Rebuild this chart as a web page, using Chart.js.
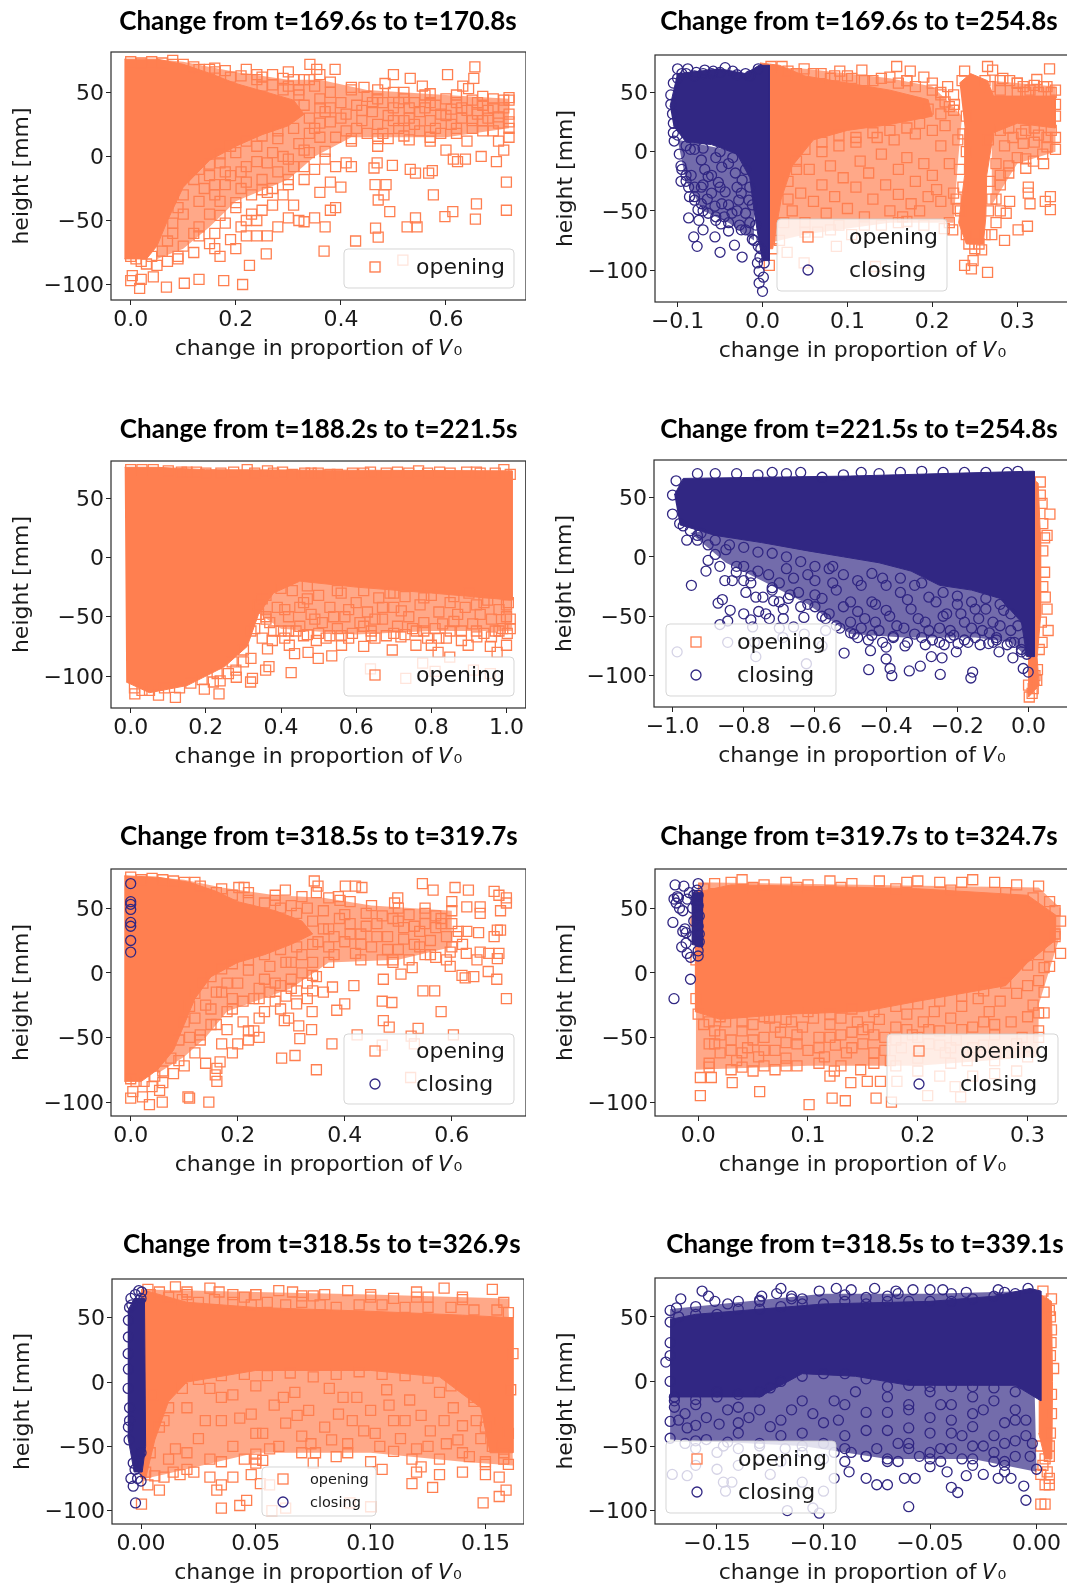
<!DOCTYPE html>
<html>
<head>
<meta charset="utf-8">
<title>Change in proportion of V0</title>
<script src="https://cdn.jsdelivr.net/npm/chart.js@4"></script>
<style>
  html, body { margin: 0; padding: 0; background: #fff; width: 1067px; height: 1585px; overflow: hidden; }
  canvas { position: absolute; }
</style>
</head>
<body>
<script>
// Tick values
const yTicks = [-100, -50, 0, 50];
const p1XTicks = [0, 0.2, 0.4, 0.6];
const p2XTicks = [-0.1, 0, 0.1, 0.2, 0.3];
const p3XTicks = [0, 0.2, 0.4, 0.6, 0.8, 1];
const p4XTicks = [-1, -0.8, -0.6, -0.4, -0.2, 0];
const p5XTicks = [0, 0.2, 0.4, 0.6];
const p6XTicks = [0, 0.1, 0.2, 0.3];
const p7XTicks = [0, 0.05, 0.1, 0.15];
const p8XTicks = [-0.15, -0.1, -0.05, 0];

const p1OpeningCore = [[-0.012,76],[0.05,76],[0.1,72],[0.15,65],[0.2,57],[0.26,50],[0.31,44],[0.33,33],[0.3,24],[0.25,17],[0.2,8],[0.15,-3],[0.1,-24],[0.07,-50],[0.05,-70],[0.03,-80],[-0.012,-80]];
const p2ClosingCore = [[-0.109,38],[-0.1,66],[-0.05,70],[-0.02,66],[-0.004,73],[0.008,73],[0.008,-92],[0,-92],[-0.005,-72],[-0.01,-50],[-0.015,-22],[-0.03,-2],[-0.06,6],[-0.09,8],[-0.105,22]];
const p2OpeningCoreA = [[-0.003,75],[0.02,73],[0.05,64],[0.1,58],[0.15,52],[0.195,44],[0.2,30],[0.15,23],[0.1,18],[0.06,10],[0.035,-12],[0.022,-40],[0.012,-82],[-0.003,-82]];
const p2OpeningCoreB = [[0.232,58],[0.245,66],[0.265,60],[0.272,47],[0.345,47],[0.345,20],[0.3,24],[0.272,16],[0.264,-20],[0.263,-55],[0.26,-78],[0.24,-78],[0.231,-60],[0.238,-20],[0.238,20]];
const p3OpeningCore = [[-0.016,76],[0.07,76],[0.2,74],[1.015,73],[1.015,-36],[0.8,-30],[0.6,-25],[0.45,-20],[0.38,-30],[0.34,-48],[0.31,-75],[0.25,-92],[0.15,-108],[0.05,-114],[-0.012,-105]];
const p4ClosingCore = [[-0.995,52],[-0.97,66],[-0.5,68],[0,72],[0.016,72],[0.016,-84],[-0.005,-84],[-0.02,-55],[-0.08,-35],[-0.16,-28],[-0.25,-24],[-0.33,-12],[-0.42,-5],[-0.52,0],[-0.62,5],[-0.75,12],[-0.88,18],[-0.98,27]];
const p4OpeningCore = [[0.01,66],[0.027,62],[0.033,20],[0.034,-50],[0.024,-85],[0.03,-108],[0.0,-118],[0.0,-85],[0.01,-80]];
const p5OpeningCore = [[-0.012,75],[0.05,74],[0.11,70],[0.16,63],[0.2,55],[0.27,48],[0.32,40],[0.34,30],[0.3,22],[0.25,14],[0.2,8],[0.15,-3],[0.12,-20],[0.1,-40],[0.08,-60],[0.05,-75],[0.02,-84],[-0.012,-84]];
const p6ClosingCore = [[-0.006,62],[0.004,62],[0.004,20],[-0.006,22]];
const p6OpeningCore = [[-0.003,62],[0.03,68],[0.1,67],[0.2,65],[0.3,60],[0.325,45],[0.325,25],[0.3,8],[0.28,-10],[0.2,-22],[0.15,-30],[0.08,-32],[0.02,-36],[-0.003,-30]];
const p7ClosingCore = [[-0.0058,55],[-0.003,65],[0.0015,65],[0.002,-50],[0.0005,-70],[-0.003,-70],[-0.0058,-42]];
const p7OpeningCore = [[0,72],[0.02,62],[0.05,58],[0.1,55],[0.14,52],[0.162,50],[0.162,-55],[0.152,-55],[0.148,-20],[0.13,4],[0.1,9],[0.05,9],[0.02,0],[0.012,-15],[0.006,-45],[0.002,-75],[0,-75]];
const p8ClosingCore = [[-0.172,48],[-0.16,52],[-0.1,60],[-0.05,62],[-0.02,66],[-0.003,72],[0.002,70],[0.002,-15],[-0.01,-3],[-0.03,-3],[-0.06,-3],[-0.085,4],[-0.11,6],[-0.13,-12],[-0.172,-12]];
const p8OpeningCore = [[0.001,68],[0.007,62],[0.0075,0],[0.0072,-60],[0.004,-60],[0.001,-40]];

// Crowded but not solid parts, drawn as a tint under the markers
const p1OpeningHaze = [[0.05,-80],[0.1,-72],[0.15,-55],[0.2,-35],[0.3,-18],[0.35,0],[0.42,15],[0.6,15],[0.72,22],[0.72,45],[0.6,48],[0.45,52],[0.36,60],[0.3,60],[0.2,66],[0.1,74],[0.05,76]];
const p2OpeningHazeA = [[0.002,-78],[0.002,72],[0.05,70],[0.1,66],[0.15,62],[0.2,55],[0.215,45],[0.235,30],[0.23,-10],[0.225,-60],[0.15,-60],[0.1,-65],[0.05,-70]];
const p2OpeningHazeB = [[0.27,60],[0.345,55],[0.345,0],[0.3,-10],[0.27,-45]];
const p2ClosingHaze = [[-0.1,10],[-0.09,-25],[-0.07,-50],[-0.04,-60],[-0.01,-75],[-0.01,-20],[-0.03,0]];
const p3OpeningHaze = [[0.33,-45],[0.4,-60],[0.6,-65],[0.8,-62],[1.015,-62],[1.015,-30],[0.6,-20],[0.4,-20]];
const p4ClosingHaze = [[-0.95,20],[-0.85,-5],[-0.75,-20],[-0.62,-40],[-0.5,-65],[-0.35,-68],[-0.15,-68],[-0.05,-72],[-0.005,-84],[-0.005,0],[-0.3,0],[-0.6,10],[-0.9,22]];
const p5OpeningHaze = [[0.05,-78],[0.1,-65],[0.14,-50],[0.18,-30],[0.3,-12],[0.37,8],[0.5,10],[0.6,20],[0.6,48],[0.45,52],[0.36,58],[0.27,60],[0.17,66],[0.1,72],[0.05,74]];
const p6OpeningHaze = [[-0.002,-75],[0.1,-72],[0.2,-72],[0.31,-65],[0.31,-25],[0.33,30],[0.33,50],[0.31,66],[0,70],[-0.002,-30]];
const p7OpeningHaze = [[0.002,72],[0.05,70],[0.1,68],[0.16,65],[0.162,-65],[0.14,-62],[0.1,-55],[0.05,-55],[0.01,-72],[0.002,-75]];
const p8ClosingHaze = [[-0.172,56],[-0.1,68],[-0.05,68],[-0.002,70],[0,-70],[-0.03,-60],[-0.07,-60],[-0.11,-50],[-0.172,-45]];

// Markers sitting on the rim of the crowded parts
const p1OpeningRim = [[0.09,-78],[0.13,-62],[0.17,-46],[0.2,-36],[0.25,-26],[0.3,-18],[0.33,-8],[0.37,4],[0.42,14],[0.47,14],[0.52,16],[0.57,15],[0.62,18],[0.67,20],[0.72,22],[0.72,46],[0.67,47],[0.62,48],[0.57,49],[0.52,50],[0.47,52],[0.42,54],[0.38,58],[0.34,60],[0.29,61],[0.24,64],[0.16,69],[0.08,75]];
const p2OpeningRim = [[0.05,-68],[0.08,-66],[0.12,-62],[0.16,-60],[0.19,-62],[0.22,-60],[0.228,-40],[0.232,-15],[0.236,15],[0.226,40],[0.21,50],[0.17,60],[0.275,-40],[0.28,-20],[0.29,-12],[0.31,-6],[0.33,-2],[0.345,2],[0.345,12],[0.3,58],[0.28,60],[0.32,56],[0.335,55]];
const p2ClosingRim = [[-0.095,-15],[-0.09,-25],[-0.08,-38],[-0.07,-50],[-0.055,-55],[-0.04,-60],[-0.025,-66],[-0.012,-74]];
const p3OpeningRim = [[0.36,-52],[0.42,-62],[0.5,-64],[0.56,-66],[0.64,-66],[0.7,-64],[0.78,-62],[0.85,-62],[0.92,-62],[0.98,-62],[1.01,-60],[0.34,-40]];
const p4ClosingRim = [[-0.93,14],[-0.88,2],[-0.82,-8],[-0.78,-16],[-0.72,-26],[-0.67,-32],[-0.62,-40],[-0.58,-50],[-0.54,-58],[-0.5,-64],[-0.44,-66],[-0.38,-67],[-0.3,-68],[-0.22,-68],[-0.15,-68],[-0.09,-70],[-0.05,-72],[-0.02,-80]];
const p5OpeningRim = [[0.09,-68],[0.13,-52],[0.16,-40],[0.19,-28],[0.24,-20],[0.3,-12],[0.34,-2],[0.37,8],[0.43,10],[0.49,10],[0.55,14],[0.6,20],[0.6,48],[0.55,50],[0.5,50],[0.45,52],[0.41,55],[0.37,58],[0.32,59],[0.27,60],[0.22,62],[0.17,65],[0.12,70]];
const p6OpeningRim = [[0.01,-73],[0.04,-73],[0.08,-72],[0.13,-72],[0.18,-72],[0.23,-70],[0.27,-68],[0.3,-65],[0.31,-45],[0.315,-15],[0.32,5],[0.33,15]];
const p7OpeningRim = [[0.02,-68],[0.035,-62],[0.05,-56],[0.07,-55],[0.09,-55],[0.11,-54],[0.13,-60],[0.15,-64],[0.16,-64],[0.02,70],[0.05,68],[0.075,67],[0.1,66],[0.12,66],[0.14,66]];
const p8ClosingRim = [[-0.172,-44],[-0.16,-46],[-0.145,-47],[-0.13,-50],[-0.11,-50],[-0.095,-55],[-0.08,-58],[-0.07,-60],[-0.05,-60],[-0.03,-60],[-0.015,-65],[-0.172,55],[-0.16,58],[-0.145,60],[-0.13,62],[-0.115,66],[-0.09,67],[-0.065,68],[-0.04,68],[-0.015,69],[-0.172,20],[-0.17,-20]];

// Individually visible markers [change, height]
const p1Opening = [[0,-97],[0.003,-93],[0.017,-103],[0.02,-96],[0.043,-94],[0.068,-102],[0.102,-99],[0.13,-96],[0.177,-97],[0.213,-100],[0.226,-85],[0.258,-76],[0.368,-74],[0.428,-66],[0.466,-86],[0.471,-63],[0.466,-56],[0.518,-81],[0.526,-55],[0.545,-55],[0.542,-48],[0.598,-47],[0.613,-43],[0.656,-49],[0.658,-37],[0.715,-42],[0.715,-20],[0.576,-30],[0.493,-43],[0.471,-34],[0.482,-30],[0.486,-22],[0.465,-22],[0.463,-9],[0.469,-5],[0.498,-7],[0.532,-10],[0.542,-13],[0.567,-13],[0.574,-11],[0.667,0],[0.696,-4],[0.637,-2],[0.622,-4],[0.614,-2],
  [0.341,72],[0.354,68],[0.36,64],[0.389,68],[0.5,64],[0.532,61],[0.603,64],[0.655,70],[0.653,61],[0.632,55],[0.643,53],[0.555,55],[0.444,54],[0.484,57],
  [0.32,48],[0.33,40],[0.34,30],[0.35,22],[0.36,45],[0.37,35],[0.38,50],[0.38,27],[0.39,15],[0.4,42],[0.41,33],[0.41,20],[0.42,52],[0.42,12],[0.43,40],[0.44,28],[0.45,47],[0.45,18],[0.46,35],[0.47,8],[0.47,25],[0.48,42],[0.49,32],[0.49,14],[0.5,50],[0.5,38],[0.51,22],[0.52,45],[0.53,30],[0.53,13],[0.54,42],[0.55,35],[0.55,20],[0.56,48],[0.57,28],[0.57,12],[0.58,40],[0.59,33],[0.59,18],[0.6,45],[0.6,5],[0.61,37],[0.61,25],[0.62,42],[0.63,30],[0.64,12],[0.64,36],[0.65,44],[0.65,22],[0.66,33],[0.67,40],[0.67,28],[0.68,36],[0.69,45],[0.69,20],[0.7,31],[0.7,12],[0.71,38],[0.71,5],[0.72,44],[0.72,33],[0.72,27],[0.72,15],
  [0.14,-25],[0.15,-45],[0.16,-60],[0.16,-72],[0.17,-35],[0.17,-78],[0.18,-52],[0.19,-15],[0.19,-65],[0.2,-40],[0.21,-55],[0.21,-25],[0.22,-62],[0.22,-8],[0.23,-45],[0.23,-30],[0.24,-50],[0.25,-18],[0.25,-42],[0.26,-62],[0.26,-5],[0.27,-25],[0.27,-38],[0.28,-55],[0.28,-12],[0.29,0],[0.3,-22],[0.3,-48],[0.31,-8],[0.31,-38],[0.32,-50],[0.33,-18],[0.33,-51],[0.34,3],[0.35,-10],[0.35,-48],[0.36,-28],[0.37,-2],[0.37,-55],[0.38,-20],[0.38,-42],[0.39,-8],[0.39,-40],[0.4,-24],[0.41,-5],[0.42,-8],
  [0.05,-85],[0.03,-84],[0.07,-82],[0.09,-80],[0.1,-70],[0.12,-60],[0.12,-75],[0.08,-60],[0.1,-45],[0.13,-35],[0.15,-15],[0.17,-5],[0.2,3],[0.24,8],[0.28,14],[0.32,10],[0.12,70],[0.15,68],[0.18,67],[0.22,68],[0.25,62],[0.27,64],[0.3,66],[0.31,60],[0.25,55],[0.3,55],[0.35,55],[0.33,60],[0.16,-30],[0.18,-22],[0.22,-20],[0.26,-28],[0.29,-30],[0.13,-55],[0.15,-68],[0.2,-72],[0.22,-50],[0.24,-62],
  [0,74],[0.02,73],[0.04,74],[0.06,73],[0.08,72],[0.1,72],[0.13,68],[0.16,66],[0.19,62],[0.21,63],[0.24,60],[0.27,56],[0.29,52],[0.32,52],[0.36,38],[0,-78],[0.01,-80],[0.02,-82],[0.04,-78],[0.06,-74],[0.07,-66],[0.08,-52],[0.09,-40],[0.1,-30],[0.12,-18],[0.13,-10],[0.15,-6],[0.17,2],[0.19,8],[0.22,12],[0.25,16],[0.28,20],[0.31,22],[0.34,18],[0.36,15],[0.33,5],[0.3,-2],[0.27,3],[0.24,-4],[0.21,-12],[0.18,-12],[0.16,-22],
  [0.36,26],[0.38,38],[0.4,30],[0.43,22],[0.46,42],[0.48,18],[0.51,42],[0.52,28],[0.54,25],[0.56,38],[0.58,22],[0.6,32],[0.62,22],[0.63,38],[0.65,28],[0.66,42],[0.68,30],[0.69,38],[0.7,26],[0.71,44],[0.44,36],[0.47,45],[0.5,28],[0.53,38],[0.57,42]];

const p2Closing = [[-0.096,-25],[-0.098,-2],[-0.096,-12],[-0.105,16],[-0.104,9],[-0.087,-30],[-0.086,-38],[-0.087,-56],[-0.081,-72],[-0.077,-80],[-0.07,-66],[-0.056,-72],[-0.05,-85],[-0.049,-61],[-0.04,-67],[-0.033,-79],[-0.024,-89],[-0.027,-62],[-0.02,-66],[-0.01,-75],[-0.076,-49],[-0.064,-52],[-0.072,-30],[-0.044,-34],[-0.036,-52],[-0.056,-46],[-0.06,-35],[-0.028,-41],[-0.084,-20],[-0.032,-18],[-0.016,-41],[-0.048,-44],[-0.072,-44],[-0.08,-41],[-0.064,-21],[-0.048,-13],[-0.024,-24],[-0.072,-7],[-0.085,2],[-0.055,-5],[-0.04,-10],[-0.03,-30],[-0.068,-15],[-0.052,-26],
  [-0.003,-89],[-0.004,-101],[-0.004,-111],[0,-118],[0.001,-106],[-0.006,-94],[0.002,-94],[-0.002,-82],[-0.1,70],[-0.088,70],[-0.068,69],[-0.044,71],[-0.005,70],[-0.105,58],[-0.106,32],[-0.095,66],[-0.078,67],[-0.058,68],[-0.035,68],[-0.02,66],
  [-0.1,62],[-0.09,66],[-0.08,64],[-0.07,66],[-0.06,66],[-0.05,67],[-0.03,65],[-0.015,64],[-0.108,48],[-0.108,40],[-0.105,24],[-0.1,14],[-0.09,5],[-0.08,2],[-0.07,3],[-0.05,0],[-0.035,-5],[-0.02,-15],[-0.015,-30],[-0.012,-45],[-0.008,-62],[-0.005,-80],[-0.06,-20],[-0.05,-30],[-0.04,-45],[-0.03,-50],[-0.02,-52],[-0.07,-28],[-0.08,-30],[-0.09,-20],[-0.015,-60],[-0.065,-40],[-0.045,-55],[-0.055,-58],[-0.075,-58],[-0.025,-35]];
const p2Opening = [[0.023,72],[0.049,70],[0.069,66],[0.091,68],[0.117,69],[0.15,63],[0.158,72],[0.174,68],[0.19,63],[0.218,55],[0.238,68],[0.265,72],[0.271,69],[0.291,60],[0.323,61],[0.338,70],[0.331,55],[0.307,55],[0.13,60],[0.105,62],[0.085,64],[0.04,66],[0.16,58],[0.2,52],[0.283,62],[0.3,58],[0.315,52],[0.345,52],
  [0.238,-96],[0.246,-99],[0.265,-102],[0.248,-92],[0.258,-83],[0.285,-75],[0.301,-66],[0.312,-63],[0.224,-66],[0.214,-65],[0.17,-59],[0.339,-49],[0.339,-38],[0.333,-42],[0.313,-30],[0.315,-44],[0.313,-35],[0.291,-42],[0.287,-52],[0.331,-10],[0.319,-8],[0.307,7],[0.335,4],[0.087,-80],[0.029,-85],[0.049,-94],[0.133,-97],[0.008,-96],
  [0.03,-25],[0.035,-50],[0.04,-8],[0.045,-35],[0.05,-60],[0.055,-15],[0.06,-42],[0.065,-68],[0.07,0],[0.07,-28],[0.075,-52],[0.08,-12],[0.085,-38],[0.09,-62],[0.09,5],[0.095,-22],[0.1,-48],[0.105,-70],[0.11,8],[0.11,-30],[0.115,-8],[0.12,-55],[0.125,-18],[0.13,-40],[0.135,12],[0.14,-2],[0.14,-62],[0.145,-28],[0.15,-50],[0.155,10],[0.16,-15],[0.16,-36],[0.165,-55],[0.17,-5],[0.175,-44],[0.18,15],[0.18,-25],[0.185,-50],[0.19,-10],[0.195,-38],[0.2,18],[0.2,-20],[0.205,-32],[0.21,5],[0.21,-42],[0.215,22],[0.22,-10],[0.225,35],[0.225,-35],[0.23,10],[0.23,-48],
  [0.275,-10],[0.28,-28],[0.285,5],[0.29,-18],[0.295,12],[0.3,-5],[0.305,15],[0.31,-14],[0.32,8],[0.325,14],[0.335,12],[0.27,-40],[0.275,-60],[0.28,-50],[0.27,-70],[0.215,42],[0.21,32],[0.225,48],[0.22,38],
  [0.01,72],[0.03,68],[0.06,66],[0.08,62],[0.1,64],[0.12,60],[0.14,62],[0.17,60],[0.18,55],[0.2,58],[0.21,48],[0.195,36],[0.185,24],[0.17,20],[0.15,18],[0.13,16],[0.11,12],[0.09,14],[0.07,8],[0.05,2],[0.04,-15],[0.03,-40],[0.025,-60],[0.02,-75],[0.012,-82],[0.235,60],[0.24,-70],[0.233,-50],[0.236,-30],[0.24,0],[0.24,30],[0.262,60],[0.268,55],[0.266,10],[0.268,-25],[0.266,-50],[0.262,-70],[0.25,-82],[0.255,-78],[0.243,-78],[0.28,52],[0.3,50],[0.31,50],[0.325,50],[0.34,50],[0.28,18],[0.29,20],[0.31,18],[0.32,20],[0.34,18],[0.345,30],[0.345,40]];

const p3Opening = [[0.119,-118],[0.235,-115],[0.196,-111],[0.074,-116],[0.011,-115],[0.319,-105],[0.324,-102],[0.238,-104],[0.281,-101],[0.427,-97],[0.368,-92],[0.359,-95],[0.364,-77],[0.377,-70],[0.422,-74],[0.436,-81],[0.499,-85],[0.472,-80],[0.535,-83],[0.494,-70],[0.561,-74],[0.62,-75],[0.696,-78],[0.719,-67],[0.759,-74],[0.8,-74],[0.818,-80],[0.849,-84],[0.898,-74],[0.921,-67],[0.957,-75],[0.975,-80],[1,-74],[1.002,-64],[0.777,-89],[0.638,-94],[0.732,-102],[0.81,-96],[0.912,-95],[0.957,-98],
  [0.135,72],[0.175,72],[0.274,72],[0.31,74],[0.364,73],[0.404,72],[0.463,71],[0.499,71],[0.638,72],[0.71,72],[0.766,73],[0.822,72],[0.894,72],[0.92,72],[0.993,74],[0.55,70],[0.59,71],
  [0.35,-35],[0.37,-55],[0.39,-42],[0.4,-62],[0.42,-50],[0.43,-28],[0.45,-58],[0.46,-38],[0.47,-65],[0.48,-48],[0.5,-32],[0.51,-55],[0.52,-68],[0.53,-42],[0.55,-60],[0.56,-30],[0.57,-50],[0.59,-64],[0.6,-38],[0.61,-55],[0.63,-46],[0.64,-62],[0.66,-34],[0.67,-52],[0.68,-66],[0.7,-42],[0.71,-58],[0.73,-33],[0.74,-50],[0.76,-62],[0.77,-40],[0.78,-55],[0.8,-32],[0.81,-60],[0.82,-46],[0.84,-68],[0.85,-38],[0.86,-54],[0.88,-62],[0.89,-42],[0.9,-30],[0.91,-56],[0.93,-48],[0.94,-64],[0.95,-36],[0.96,-52],[0.98,-44],[0.99,-60],[1.005,-38],[1.01,-52],[0.33,-60],[0.32,-85],[0.3,-88],[0.28,-95],[0.26,-98],[0.22,-105],[0.45,-42],[0.58,-44],[0.69,-30],
  [0,74],[0.03,74],[0.06,74],[0.1,73],[0.15,72],[0.2,71],[0.24,71],[0.33,71],[0.38,71],[0.43,70],[0.48,71],[0.53,70],[0.62,71],[0.68,71],[0.74,71],[0.79,71],[0.85,71],[0.93,71],[0.97,71],[1.01,70],[0.01,-110],[0.03,-112],[0.05,-112],[0.09,-110],[0.13,-110],[0.16,-106],[0.19,-103],[0.23,-98],[0.27,-88],[0.3,-78],[0.32,-62],[0.34,-48],[0.36,-32],[0.4,-26],[0.47,-24],[0.55,-28],[0.62,-28],[0.7,-30],[0.78,-34],[0.86,-33],[0.94,-38],[1,-40],
  [0.36,-50],[0.41,-44],[0.44,-62],[0.47,-35],[0.49,-52],[0.54,-50],[0.58,-68],[0.62,-58],[0.65,-52],[0.67,-42],[0.72,-45],[0.75,-60],[0.79,-68],[0.83,-56],[0.87,-48],[0.92,-40],[0.97,-62],[1,-50],[0.35,-68],[0.38,-62],[0.41,-68],[0.46,-66],[0.53,-66],[0.65,-68],[0.73,-65],[0.82,-68],[0.88,-70],[0.96,-67]];

const p4Closing = [[-0.947,-24],[-0.906,-12],[-0.9,-3],[-0.867,-8],[-0.853,-20],[-0.832,-20],[-0.821,-13],[-0.8,-20],[-0.794,-30],[-0.872,-39],[-0.86,-36],[-0.838,-45],[-0.8,-48],[-0.78,-53],[-0.758,-46],[-0.738,-48],[-0.728,-52],[-0.689,-44],[-0.689,-52],[-0.716,-37],[-0.766,-34],[-0.746,-34],[-0.675,-35],[-0.646,-30],[-0.631,-51],[-0.867,-57],[-0.845,-54],[-0.987,-80],[-0.845,-72],[-0.766,-84],[-0.624,-90],[-0.518,-81],[-0.449,-95],[-0.4,-86],[-0.4,-76],[-0.444,-79],[-0.389,-94],[-0.384,-100],[-0.335,-96],[-0.304,-92],[-0.248,-99],[-0.162,-102],[-0.157,-97],[-0.273,-84],[-0.243,-85],[-0.347,-75],[-0.29,-74],[-0.237,-74],[-0.198,-73],[-0.203,-80],[-0.136,-74],[-0.112,-73],[-0.083,-80],[-0.044,-85],[-0.015,-94],[-0.001,-97],[-0.775,-59],[-0.66,-59],[-0.57,-62],[-0.58,-75],[-0.7,-60],[-0.63,-65],[-0.77,-72],[-0.69,-68],
  [-0.99,64],[-0.93,70],[-0.88,70],[-0.82,70],[-0.76,69],[-0.72,71],[-0.68,70],[-0.64,71],[-0.58,67],[-0.52,69],[-0.47,71],[-0.42,70],[-0.36,71],[-0.3,72],[-0.24,71],[-0.18,71],[-0.12,71],[-0.06,71],[-0.03,72],[-1,52],[-1,36],[-0.97,26],[-0.93,18],[-0.96,14],[-0.9,10],[-0.85,6],
  [-0.6,-20],[-0.58,-35],[-0.56,-48],[-0.54,-28],[-0.53,-60],[-0.5,-55],[-0.5,-38],[-0.49,-65],[-0.47,-24],[-0.46,-52],[-0.45,-70],[-0.43,-40],[-0.42,-62],[-0.41,-18],[-0.39,-50],[-0.38,-68],[-0.36,-30],[-0.35,-60],[-0.33,-44],[-0.32,-65],[-0.3,-22],[-0.29,-55],[-0.27,-70],[-0.26,-38],[-0.25,-60],[-0.23,-48],[-0.21,-66],[-0.2,-33],[-0.18,-55],[-0.17,-72],[-0.15,-44],[-0.13,-62],[-0.12,-35],[-0.1,-55],[-0.09,-68],[-0.07,-45],[-0.05,-62],[-0.04,-72],[-0.7,-22],[-0.68,-10],[-0.73,-15],[-0.62,-15],[-0.6,-42],[-0.55,-8],
  [-0.98,28],[-0.95,22],[-0.92,20],[-0.88,14],[-0.84,10],[-0.8,8],[-0.76,4],[-0.72,3],[-0.68,0],[-0.64,-4],[-0.6,-8],[-0.56,-10],[-0.52,-15],[-0.48,-20],[-0.44,-14],[-0.4,-24],[-0.36,-18],[-0.32,-24],[-0.28,-34],[-0.24,-30],[-0.2,-40],[-0.16,-38],[-0.12,-44],[-0.08,-40],[-0.05,-48],[-0.03,-58],[-0.015,-72],[-0.005,-82],
  [-0.8,-8],[-0.78,-22],[-0.76,-12],[-0.72,-28],[-0.7,-38],[-0.66,-18],[-0.64,-42],[-0.6,-32],[-0.57,-52],[-0.55,-22],[-0.52,-42],[-0.48,-46],[-0.47,-60],[-0.44,-38],[-0.43,-55],[-0.4,-45],[-0.37,-58],[-0.34,-36],[-0.31,-52],[-0.28,-62],[-0.24,-50],[-0.22,-62],[-0.19,-48],[-0.16,-60],[-0.14,-52],[-0.11,-64],[-0.08,-58],[-0.06,-74],[-0.02,-78],[-0.48,-68],[-0.41,-72],[-0.34,-72],[-0.25,-72],[-0.18,-70],[-0.1,-72]];
const p4Opening = [[0.033,63],[0.06,36],[0.052,18],[0.045,-13],[0.052,-44],[0.055,-62],[0.038,-72],[0.047,-34],[0.023,-104],[0.002,-118],[0.013,-111],[0.04,28],[0.045,16],[0.04,5],[0.038,45],[0.033,52],[0.04,-25],[0.036,-55],[0.03,-78],[0.025,-95],[0.018,-100],[0.01,-115],[0,-108]];

const p5Closing = [[0,69],[0,55],[0,53],[0,49],[0,39],[0,36],[0,25],[0,16]];
const p5Opening = [[0,-97],[0.004,-92],[0.022,-96],[0.035,-102],[0.059,-100],[0.054,-91],[0.107,-96],[0.11,-97],[0.146,-100],[0.161,-84],[0.158,-79],[0.161,-74],[0.167,-69],[0.282,-66],[0.307,-64],[0.347,-75],[0.376,-55],[0.316,-51],[0.338,-44],[0.287,-37],[0.295,-35],[0.314,-41],[0.339,-30],[0.385,-29],[0.4,-24],[0.377,-11],[0.417,-10],[0.347,-3],[0.472,-5],[0.505,-1],[0.526,4],[0.47,-22],[0.488,-23],[0.472,-37],[0.483,-42],[0.58,-30],[0.546,-14],[0.568,-14],[0.603,-48],[0.537,-43],[0.524,-49],[0.53,-55],[0.423,-48],[0.47,-56],[0.523,-81],[0.702,-20],[0.684,-5],[0.668,1],[0.641,-3],[0.625,-4],[0.619,-2],[0.597,5],
  [0.343,71],[0.35,67],[0.347,62],[0.289,64],[0.202,66],[0.212,66],[0.401,67],[0.42,67],[0.432,66],[0.545,69],[0.565,64],[0.606,66],[0.631,64],[0.679,63],[0.688,60],[0.702,58],[0.702,54],[0.691,48],[0.653,51],[0.653,46],[0.628,51],[0.6,55],[0.499,58],[0.493,54],[0.388,59],[0.391,56],
  [0.685,33],[0.691,33],[0.679,28],[0.65,31],[0.628,32],[0.609,28],[0.612,32],[0.688,15],[0.685,11],[0.669,15],[0.653,16],[0.647,10],[0.627,15],[0.597,16],[0.58,42],[0.57,35],[0.56,25],[0.55,46],[0.54,32],[0.53,22],[0.52,45],[0.51,35],[0.5,18],[0.49,42],[0.48,28],[0.47,10],[0.46,38],[0.45,20],[0.44,46],[0.43,30],[0.42,15],[0.41,38],[0.4,24],[0.39,42],[0.38,14],[0.37,34],[0.36,48],[0.35,24],[0.34,8],[0.33,50],[0.32,14],[0.3,52],[0.29,8],[0.27,56],[0.59,10],[0.57,12],[0.58,38],[0.52,10],[0.49,8],
  [0.14,-25],[0.15,-40],[0.16,-15],[0.17,-55],[0.18,-30],[0.19,-62],[0.2,-8],[0.2,-55],[0.21,-38],[0.22,-52],[0.23,-20],[0.23,-45],[0.24,-35],[0.24,-50],[0.25,-5],[0.26,-15],[0.27,-22],[0.28,-10],[0.29,-18],[0.3,-5],[0.31,-14],[0.32,0],[0.33,-20],[0.34,-14],[0.12,-62],[0.13,-48],[0.14,-70],[0.1,-72],[0.08,-78],[0.06,-85],[0.04,-88],[0.17,-15],[0.19,-20],[0.22,2],[0.26,5],[0.3,8],[0.11,-50],
  [0,74],[0.02,72],[0.04,73],[0.06,72],[0.08,71],[0.1,70],[0.13,67],[0.16,62],[0.19,60],[0.22,56],[0.25,54],[0.28,50],[0.31,46],[0.34,40],[0.36,34],[0,-82],[0.01,-84],[0.025,-84],[0.045,-80],[0.06,-76],[0.075,-66],[0.09,-52],[0.1,-38],[0.11,-26],[0.12,-16],[0.135,-8],[0.15,-3],[0.17,3],[0.19,7],[0.22,10],[0.25,14],[0.28,18],[0.31,20],[0.34,22],[0.37,20],
  [0.12,-35],[0.15,-28],[0.18,-8],[0.18,-44],[0.21,-22],[0.22,-45],[0.24,-12],[0.25,-30],[0.27,-8],[0.28,-28],[0.31,-24],[0.33,-8],[0.36,-15],[0.38,28],[0.4,45],[0.41,30],[0.43,22],[0.44,36],[0.46,28],[0.47,44],[0.48,18],[0.5,40],[0.51,26],[0.53,36],[0.54,20],[0.55,38],[0.56,14],[0.57,44],[0.59,28],[0.6,38],[0.62,22]];

const p6Closing = [[-0.021,68],[-0.013,67],[-0.008,62],[0,69],[-0.022,57],[-0.019,59],[-0.017,50],[-0.014,48],[-0.01,57],[-0.023,39],[-0.014,32],[-0.011,31],[-0.015,20],[-0.011,23],[-0.01,15],[-0.007,12],[0,13],[-0.007,-5],[-0.022,-20],[-0.02,54],[-0.018,58],[-0.012,34],[-0.005,28],[-0.004,40],[-0.005,50],[0,17],[0.001,24],[0,60],[0,52],[0.001,44],[0,36],[0.001,30],[-0.001,64],[-0.002,55],[-0.004,60]];
const p6Opening = [[0.002,-95],[0.002,-81],[0.012,-81],[0.031,-85],[0.056,-92],[0.101,-102],[0.122,-97],[0.134,-99],[0.162,-97],[0.176,-100],[0.209,-95],[0.239,-96],[0.12,-80],[0.139,-85],[0.154,-84],[0.166,-84],[0.181,-84],[0.148,-75],[0.234,-88],[0.124,-76],[0.25,-80],[0.27,-78],[0.29,-76],[0.22,-80],[0.2,-76],[0.07,-75],[0.09,-72],[0.05,-76],[0.03,-75],[0.01,-70],[0.06,-72],[0.11,-70],[0.16,-70],
  [0.04,72],[0.03,70],[0.015,69],[0.06,68],[0.08,70],[0.1,68],[0.12,71],[0.14,69],[0.165,71],[0.19,70],[0.2,71],[0.22,70],[0.24,70],[0.25,72],[0.27,70],[0.29,68],[0.31,67],[0.32,55],[0.325,48],[0.33,40],[0.325,28],[0.315,4],[0.31,-6],[0.305,-25],[0.31,-31],[0.3,-10],[0.315,-31],
  [0.005,-40],[0.01,-55],[0.015,-45],[0.02,-62],[0.025,-38],[0.03,-52],[0.035,-68],[0.04,-45],[0.045,-58],[0.05,-40],[0.055,-65],[0.06,-50],[0.065,-35],[0.07,-60],[0.075,-46],[0.08,-66],[0.085,-38],[0.09,-55],[0.095,-42],[0.1,-60],[0.105,-35],[0.11,-50],[0.115,-65],[0.12,-40],[0.125,-56],[0.13,-35],[0.135,-62],[0.14,-46],[0.145,-38],[0.15,-55],[0.155,-42],[0.16,-62],[0.165,-36],[0.17,-50],[0.175,-68],[0.18,-42],[0.185,-58],[0.19,-32],[0.195,-48],[0.2,-66],[0.205,-38],[0.21,-55],[0.215,-30],[0.22,-45],[0.225,-62],[0.23,-35],[0.235,-52],[0.24,-26],[0.245,-68],[0.25,-42],[0.255,-20],[0.26,-56],[0.265,-30],[0.27,-48],[0.275,-22],[0.28,-62],[0.285,-38],[0.29,-16],[0.295,-50],[0.3,-34],
  [0,-32],[0.01,-38],[0.02,-34],[0.04,-38],[0.06,-34],[0.08,-36],[0.1,-30],[0.12,-32],[0.14,-28],[0.16,-30],[0.18,-26],[0.2,-24],[0.22,-22],[0.24,-18],[0.26,-14],[0.28,-8],[0.3,6],[0.31,14],[0.32,20],[0.325,30],[-0.002,-20],[-0.002,10],[-0.002,40],[0.005,65],[0.05,66],[0.09,66],[0.13,66],[0.18,65],[0.23,64],[0.28,62],[0.305,58],
  [0.015,-55],[0.03,-60],[0.05,-52],[0.07,-42],[0.09,-48],[0.11,-58],[0.13,-48],[0.15,-44],[0.17,-60],[0.19,-44],[0.21,-44],[0.23,-58],[0.25,-58],[0.27,-40],[0.29,-55],[0.31,-50],[0.02,-48],[0.04,-62],[0.06,-60],[0.08,-54],[0.12,-50],[0.14,-58],[0.16,-48],[0.18,-52],[0.2,-50],[0.22,-56],[0.24,-44],[0.26,-38]];

const p7Closing = [[-0.001,71],[0.0003,70],[-0.0044,65],[0,65],[-0.0052,-45],[-0.0034,-63],[-0.0044,-75],[-0.0034,-81],[-0.0024,-94],[0,-77],[0,-55],[-0.0026,-68],[-0.0015,-75],[-0.005,-20],[-0.0055,10],[-0.0055,35],[-0.0055,48],[-0.005,58],[-0.004,60],[-0.0025,68],[-0.0055,-35],[-0.005,-30],[-0.0056,-5],[-0.0056,22]];
const p7Opening = [[0.0002,-95],[0.008,-84],[0.003,-80],[0.035,-98],[0.043,-96],[0.046,-92],[0.057,-100],[0.063,-98],[0.091,-94],[0.1,-97],[0.149,-94],[0.156,-89],[0.159,-84],[0.118,-79],[0.127,-82],[0.033,-84],[0.035,-80],[0.052,-79],[0.056,-80],[0.014,-70],[0.01,-74],[0.006,-73],[0.017,-72],[0.023,-70],[0.03,-74],[0.04,-74],[0.048,-72],[0.05,-63],[0.053,-61],[0.075,-63],[0.085,-58],[0.1,-62],[0.105,-68],[0.12,-70],[0.122,-66],[0.13,-72],[0.14,-70],[0.15,-72],[0.156,-74],[0.158,-60],[0.16,-40],[0.161,-6],[0.162,22],
  [0.003,72],[0.008,70],[0.015,74],[0.02,68],[0.03,73],[0.034,70],[0.045,66],[0.05,68],[0.06,71],[0.066,70],[0.08,68],[0.09,71],[0.1,68],[0.11,65],[0.12,70],[0.132,73],[0.14,64],[0.153,72],[0.158,62],[0.125,66],[0.07,67],[0.04,68],
  [0.005,-10],[0.01,-30],[0.015,-52],[0.02,-20],[0.025,-44],[0.03,-5],[0.03,-60],[0.035,-30],[0.04,-50],[0.04,-10],[0.045,-60],[0.048,-25],[0.05,-3],[0.053,-40],[0.058,-18],[0.06,-50],[0.063,-32],[0.067,-8],[0.07,-42],[0.073,-22],[0.076,-55],[0.08,-35],[0.082,-5],[0.086,-25],[0.09,-48],[0.094,-12],[0.097,-38],[0.1,-22],[0.104,-50],[0.107,-6],[0.11,-30],[0.113,-44],[0.117,-14],[0.12,-52],[0.122,-26],[0.126,-38],[0.13,-8],[0.133,-48],[0.136,-20],[0.14,-34],[0.143,-58],[0.145,-12],[0.148,-44],[0.15,-62],[0.152,-30],
  [0.004,68],[0.012,66],[0.018,64],[0.025,62],[0.032,64],[0.04,62],[0.048,60],[0.055,62],[0.063,60],[0.07,62],[0.078,60],[0.085,58],[0.095,60],[0.105,60],[0.115,58],[0.125,58],[0.135,58],[0.145,56],[0.155,56],[0.16,54],[0.002,-70],[0.004,-55],[0.008,-35],[0.012,-20],[0.018,-5],[0.025,2],[0.035,5],[0.045,6],[0.055,5],[0.065,7],[0.075,4],[0.085,6],[0.095,8],[0.105,6],[0.115,5],[0.125,3],[0.135,-3],[0.145,-15],[0.15,-35],[0.153,-50],[0.158,-55],
  [0.012,-60],[0.02,-55],[0.028,-30],[0.035,-12],[0.043,-28],[0.05,-40],[0.056,-52],[0.062,-12],[0.068,-26],[0.074,-48],[0.083,-45],[0.088,-12],[0.092,-30],[0.102,-40],[0.108,-18],[0.115,-30],[0.118,-60],[0.125,-50],[0.132,-30],[0.138,-45],[0.14,-55],[0.146,-30],[0.05,-60]];

const p8Closing = [[-0.157,70],[-0.154,66],[-0.151,62],[-0.167,64],[-0.169,57],[-0.14,62],[-0.129,66],[-0.12,72],[-0.122,68],[-0.115,64],[-0.102,70],[-0.094,72],[-0.087,71],[-0.076,72],[-0.066,70],[-0.058,71],[-0.05,71],[-0.044,71],[-0.033,69],[-0.018,71],[-0.004,72],[-0.13,63],[-0.11,64],[-0.08,65],[-0.07,66],
  [-0.172,-31],[-0.168,-30],[-0.164,-36],[-0.16,-34],[-0.165,-48],[-0.155,-45],[-0.149,-33],[-0.147,-50],[-0.14,-40],[-0.135,-28],[-0.13,-48],[-0.125,-35],[-0.118,-52],[-0.11,-40],[-0.105,-25],[-0.1,-48],[-0.093,-30],[-0.087,-55],[-0.08,-38],[-0.075,-52],[-0.07,-24],[-0.065,-48],[-0.06,-36],[-0.055,-58],[-0.05,-28],[-0.045,-52],[-0.04,-40],[-0.035,-60],[-0.03,-25],[-0.025,-50],[-0.02,-42],[-0.015,-32],[-0.01,-46],[-0.005,-30],[-0.003,-58],[-0.002,-48],[-0.17,-15],[-0.16,-18],[-0.15,-12],[-0.14,-20],[-0.125,-5],[-0.115,-22],[-0.095,-15],[-0.085,-8],[-0.07,-12],[-0.06,-18],[-0.05,-8],[-0.04,-18],[-0.03,-12],[-0.02,-15],[-0.01,-22],
  [-0.171,-72],[-0.164,-73],[-0.16,-65],[-0.15,-68],[-0.147,-78],[-0.146,-85],[-0.143,-78],[-0.14,-65],[-0.125,-72],[-0.117,-100],[-0.105,-98],[-0.102,-102],[-0.11,-78],[-0.1,-85],[-0.095,-75],[-0.088,-70],[-0.08,-75],[-0.075,-80],[-0.07,-80],[-0.062,-75],[-0.057,-75],[-0.06,-97],[-0.05,-66],[-0.042,-70],[-0.04,-82],[-0.037,-86],[-0.033,-73],[-0.025,-72],[-0.018,-75],[-0.015,-70],[-0.012,-75],[-0.006,-81],[-0.005,-92],[0,-68],[-0.09,-62],[-0.065,-62],[-0.045,-62],[-0.03,-65],[-0.015,-62],
  [-0.172,46],[-0.168,50],[-0.16,52],[-0.15,52],[-0.14,56],[-0.13,56],[-0.12,58],[-0.11,60],[-0.1,60],[-0.09,62],[-0.08,60],[-0.07,62],[-0.06,62],[-0.05,62],[-0.04,62],[-0.03,64],[-0.02,66],[-0.01,68],[-0.172,30],[-0.174,15],[-0.172,0],
  [-0.17,-12],[-0.16,-14],[-0.15,-8],[-0.14,-10],[-0.13,-8],[-0.12,0],[-0.11,4],[-0.1,6],[-0.09,6],[-0.08,2],[-0.07,-4],[-0.06,-3],[-0.05,-4],[-0.04,-4],[-0.03,-4],[-0.02,-5],[-0.01,-8],
  [-0.165,-25],[-0.155,-28],[-0.145,-22],[-0.14,-32],[-0.13,-22],[-0.12,-30],[-0.12,-42],[-0.11,-15],[-0.1,-32],[-0.09,-18],[-0.09,-42],[-0.08,-24],[-0.07,-38],[-0.06,-22],[-0.06,-48],[-0.05,-40],[-0.045,-18],[-0.04,-30],[-0.035,-42],[-0.03,-35],[-0.025,-22],[-0.02,-55],[-0.015,-48],[-0.01,-30],[-0.005,-42],[-0.16,-52],[-0.15,-55],[-0.14,-52],[-0.13,-60],[-0.12,-62],[-0.11,-55],[-0.1,-60],[-0.09,-52],[-0.08,-58],[-0.07,-62],[-0.06,-52],[-0.05,-55],[-0.04,-52],[-0.03,-50],[-0.02,-62],[-0.01,-58]];
const p8Opening = [[0.002,-95],[0.004,-95],[0.004,-80],[0.006,-80],[0.002,-72],[0.005,-70],[0.003,70],[0.007,64],[0.0065,50],[0.0068,30],[0.008,10],[0.007,-25],[0.006,-58],[0.003,-65],[0.006,-75],[0.003,60],[0.006,55],[0.007,40],[0.0065,20],[0.007,-10],[0.0065,-40],[0.006,-50],[0.004,-60],[0.002,-50]];

const ORANGE = '#ff7f50';
const NAVY = '#312783';
const ORANGE_TINT = 'rgba(255,127,80,0.68)';
const NAVY_TINT = 'rgba(49,39,131,0.68)';

function panelTitleText(a, b) {
  return 'Change from t=' + a + 's to t=' + b + 's';
}

const panels = [
  { title: panelTitleText('169.6', '170.8'), titleAt: [318, 22], box: [111, 526, 52, 300], xRange: [-0.0375, 0.7523], yRange: [-112.1, 81.6], xTicks: p1XTicks, digits: 1,
    opening: p1Opening.concat(p1OpeningRim), closing: [], openingCores: [p1OpeningCore], closingCores: [], openingHaze: [p1OpeningHaze], closingHaze: [], legend: { rect: [344, 249, 514, 288], markX: 375, textX: 416, rows: [267], size: 22 } },
  { title: panelTitleText('169.6', '254.8'), titleAt: [859, 22], box: [655, 1070, 55, 302], xRange: [-0.1266, 0.3621], yRange: [-127, 81.7], xTicks: p2XTicks, digits: 1,
    opening: p2Opening.concat(p2OpeningRim), closing: p2Closing.concat(p2ClosingRim), openingCores: [p2OpeningCoreA, p2OpeningCoreB], closingCores: [p2ClosingCore], openingHaze: [p2OpeningHazeA, p2OpeningHazeB], closingHaze: [p2ClosingHaze], legend: { rect: [777, 219, 947, 291], markX: 808, textX: 849, rows: [237, 270], size: 22 } },
  { title: panelTitleText('188.2', '221.5'), titleAt: [318.6, 429.6], box: [111, 526, 461, 708], xRange: [-0.0524, 1.0513], yRange: [-126.9, 81.3], xTicks: p3XTicks, digits: 1,
    opening: p3Opening.concat(p3OpeningRim), closing: [], openingCores: [p3OpeningCore], closingCores: [], openingHaze: [p3OpeningHaze], closingHaze: [], legend: { rect: [344, 657, 514, 696], markX: 375, textX: 416, rows: [675], size: 22 } },
  { title: panelTitleText('221.5', '254.8'), titleAt: [859, 429.6], box: [654, 1070, 460, 707], xRange: [-1.052, 0.1164], yRange: [-126.4, 81.5], xTicks: p4XTicks, digits: 1,
    opening: p4Opening, closing: p4Closing.concat(p4ClosingRim), openingCores: [p4OpeningCore], closingCores: [p4ClosingCore], openingHaze: [], closingHaze: [p4ClosingHaze], legend: { rect: [666, 624, 836, 696], markX: 696, textX: 737, rows: [642, 675], size: 22 } },
  { title: panelTitleText('318.5', '319.7'), titleAt: [318.9, 837], box: [111, 526, 869, 1116], xRange: [-0.0368, 0.7386], yRange: [-110.8, 80.3], xTicks: p5XTicks, digits: 1,
    opening: p5Opening.concat(p5OpeningRim), closing: p5Closing, openingCores: [p5OpeningCore], closingCores: [], openingHaze: [p5OpeningHaze], closingHaze: [], legend: { rect: [344, 1034, 514, 1104], markX: 375, textX: 416, rows: [1051, 1084], size: 22 } },
  { title: panelTitleText('319.7', '324.7'), titleAt: [859, 837], box: [655, 1070, 869, 1116], xRange: [-0.0393, 0.3386], yRange: [-110.8, 80.3], xTicks: p6XTicks, digits: 1,
    opening: p6Opening.concat(p6OpeningRim), closing: p6Closing, openingCores: [p6OpeningCore], closingCores: [p6ClosingCore], openingHaze: [p6OpeningHaze], closingHaze: [], legend: { rect: [887, 1034, 1058, 1104], markX: 919, textX: 960, rows: [1051, 1084], size: 22 } },
  { title: panelTitleText('318.5', '326.9'), titleAt: [321.8, 1244.6], box: [112, 524, 1279, 1524], xRange: [-0.01264, 0.1668], yRange: [-110.4, 80.1], xTicks: p7XTicks, digits: 2,
    opening: p7Opening.concat(p7OpeningRim), closing: p7Closing, openingCores: [p7OpeningCore], closingCores: [p7ClosingCore], openingHaze: [p7OpeningHaze], closingHaze: [], legend: { rect: [262, 1467, 376, 1516], markX: 283, textX: 310, rows: [1479, 1502], size: 14.5 } },
  { title: panelTitleText('318.5', '339.1'), titleAt: [865, 1244.6], box: [655, 1070, 1278, 1524], xRange: [-0.1791, 0.0157], yRange: [-110.4, 80.1], xTicks: p8XTicks, digits: 2,
    opening: p8Opening, closing: p8Closing.concat(p8ClosingRim), openingCores: [p8OpeningCore], closingCores: [p8ClosingCore], openingHaze: [], closingHaze: [p8ClosingHaze], legend: { rect: [666, 1441, 836, 1513], markX: 697, textX: 738, rows: [1459, 1492], size: 22 } }
];

const LEFT_SPACE = 110, TOP_SPACE = 50, BOTTOM_SPACE = 62;

function toXY(pairs) {
  return pairs.map(([x, y]) => ({ x, y }));
}

function coreSet(outline, color) {
  return { data: toXY(outline), showLine: true, fill: 'shape', backgroundColor: color, borderColor: color, borderWidth: 1, pointRadius: 0 };
}

function hazeSet(outline, color) {
  return { data: toXY(outline), showLine: true, fill: 'shape', backgroundColor: color, borderWidth: 0, pointRadius: 0 };
}

function pointSet(label, pairs, color, style, radius) {
  return { label, data: toXY(pairs), pointStyle: style, pointRadius: radius, pointBorderWidth: 1.3, pointBorderColor: color, pointBackgroundColor: 'rgba(0,0,0,0)', showLine: false };
}

// Spines plus the legend box, which sits above the data
const framePlugin = {
  id: 'frame',
  afterLayout(chart, args, opts) {
    const t = chart.titleBlock;
    t.left = opts.titleAt[0] - opts.originX - 300;
    t.right = opts.titleAt[0] - opts.originX + 300;
    t.top = opts.titleAt[1] - opts.originY - 13;
    t.bottom = t.top + TOP_SPACE;
  },
  afterDatasetsDraw(chart, args, opts) {
    const ctx = chart.ctx;
    const a = chart.chartArea;
    const lg = opts.legend;
    const ox = opts.originX, oy = opts.originY;
    ctx.save();
    ctx.strokeStyle = '#2b2b2b';
    ctx.lineWidth = 1.2;
    ctx.strokeRect(a.left, a.top, a.right - a.left, a.bottom - a.top);

    ctx.beginPath();
    ctx.roundRect(lg.rect[0] - ox, lg.rect[1] - oy, lg.rect[2] - lg.rect[0], lg.rect[3] - lg.rect[1], 4);
    ctx.fillStyle = 'rgba(255,255,255,0.8)';
    ctx.fill();
    ctx.strokeStyle = 'rgba(204,204,204,0.8)';
    ctx.lineWidth = 1;
    ctx.stroke();

    ctx.font = lg.size + 'px "DejaVu Sans"';
    ctx.textBaseline = 'middle';
    ctx.lineWidth = 1.3;
    const names = ['opening', 'closing'];
    lg.rows.forEach((rowY, i) => {
      const mx = lg.markX - ox, my = rowY - oy;
      const color = i === 0 ? ORANGE : NAVY;
      ctx.strokeStyle = color;
      if (i === 0) {
        ctx.strokeRect(mx - 5, my - 5, 10, 10);
      } else {
        ctx.beginPath();
        ctx.arc(mx, my, 5, 0, Math.PI * 2);
        ctx.stroke();
      }
      ctx.fillStyle = '#1a1a1a';
      ctx.fillText(names[i], lg.textX - ox, my + 1.5);
    });
    ctx.restore();
  }
};

panels.forEach(p => {
  const [l, r, t, b] = p.box;
  const originX = l - LEFT_SPACE, originY = t - TOP_SPACE;
  const canvas = document.createElement('canvas');
  canvas.width = r - originX;
  canvas.height = b - originY + BOTTOM_SPACE;
  canvas.style.left = originX + 'px';
  canvas.style.top = originY + 'px';
  document.body.appendChild(canvas);

  // first dataset is painted last, so closing stays above opening
  const datasets = [];
  if (p.closing.length) datasets.push(pointSet('closing', p.closing, NAVY, 'circle', 5));
  p.closingCores.forEach(c => datasets.push(coreSet(c, NAVY)));
  p.closingHaze.forEach(c => datasets.push(hazeSet(c, NAVY_TINT)));
  datasets.push(pointSet('opening', p.opening, ORANGE, 'rect', 7.07));
  p.openingCores.forEach(c => datasets.push(coreSet(c, ORANGE)));
  p.openingHaze.forEach(c => datasets.push(hazeSet(c, ORANGE_TINT)));

  new Chart(canvas, {
    type: 'scatter',
    data: { datasets },
    plugins: [framePlugin],
    options: {
      responsive: false,
      animation: false,
      layout: { autoPadding: false, padding: 0 },
      scales: {
        x: {
          type: 'linear',
          min: p.xRange[0],
          max: p.xRange[1],
          afterBuildTicks: s => { s.ticks = p.xTicks.map(value => ({ value })); },
          afterFit: s => { s.height = BOTTOM_SPACE; },
          grid: { drawOnChartArea: false, drawTicks: true, tickLength: 5, color: '#222' },
          border: { display: false },
          ticks: {
            autoSkip: false, maxRotation: 0, padding: 2, color: '#1a1a1a',
            font: { family: '"DejaVu Sans"', size: 22 },
            callback: v => Number(v).toFixed(p.digits).replace('-', '\u2212')
          },
          title: {
            display: true, text: 'change in proportion of \uD835\uDC49\u2080', color: '#1a1a1a',
            font: { family: '"DejaVu Sans"', size: 22 }, padding: { top: 0, bottom: 0 }
          }
        },
        y: {
          type: 'linear',
          min: p.yRange[0],
          max: p.yRange[1],
          afterBuildTicks: s => { s.ticks = yTicks.map(value => ({ value })); },
          afterFit: s => { s.width = LEFT_SPACE; },
          grid: { drawOnChartArea: false, drawTicks: true, tickLength: 5, color: '#222' },
          border: { display: false },
          ticks: {
            autoSkip: false, padding: 2, labelOffset: 2, color: '#1a1a1a',
            font: { family: '"DejaVu Sans"', size: 22 },
            callback: v => String(v).replace('-', '\u2212')
          },
          title: {
            display: true, text: 'height [mm]', color: '#1a1a1a',
            font: { family: '"DejaVu Sans"', size: 22 }, padding: { top: 8, bottom: 0 }
          }
        }
      },
      plugins: {
        legend: { display: false },
        tooltip: { enabled: false },
        title: {
          display: true, text: p.title, color: '#000',
          font: { family: 'Lato', weight: 'bold', size: 26, lineHeight: 1 }, padding: { top: 0, bottom: TOP_SPACE - 26 }
        },
        frame: { titleAt: p.titleAt, originX, originY, legend: p.legend }
      }
    }
  });
});
</script>
</body>
</html>
